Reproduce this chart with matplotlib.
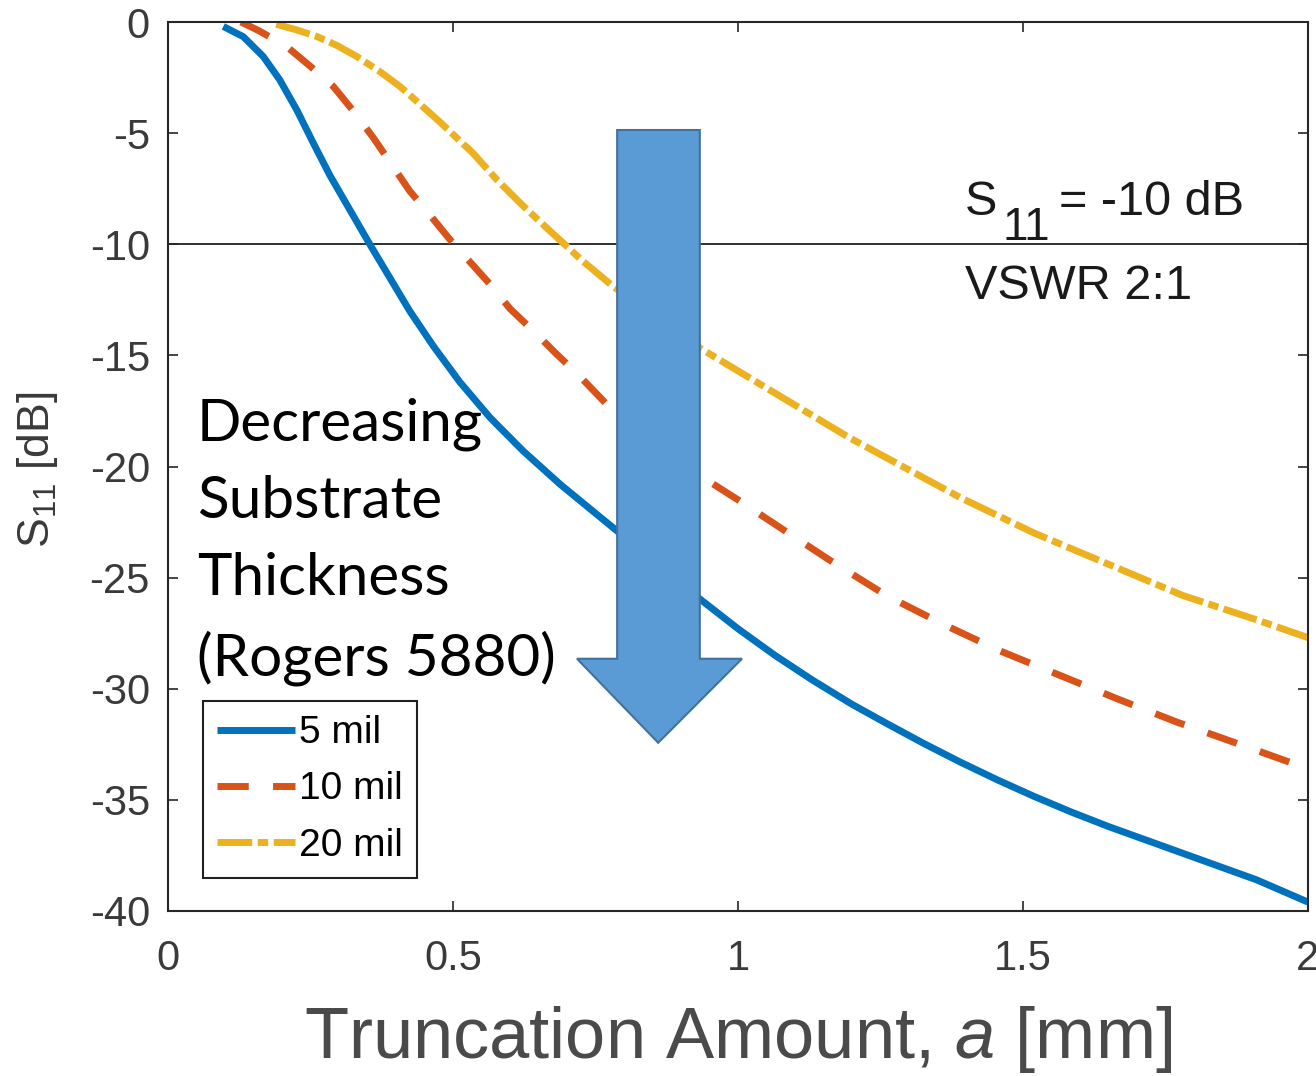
import numpy as np
import matplotlib
matplotlib.use('Agg')
import matplotlib.pyplot as plt
from matplotlib.patches import Polygon

# data
x_5mil = [0.097, 0.132, 0.167, 0.196, 0.226, 0.255, 0.284, 0.319, 0.354, 0.389, 0.424, 0.466,
          0.512, 0.565, 0.623, 0.688, 0.764, 0.85, 0.93, 1.0, 1.065, 1.13, 1.2, 1.26, 1.325,
          1.39, 1.455, 1.52, 1.585, 1.65, 1.715, 1.78, 1.845, 1.91, 1.955, 2.0]
s11_5mil = [-0.2, -0.66, -1.55, -2.6, -3.96, -5.45, -6.9, -8.45, -10.0, -11.5, -13.0, -14.6,
            -16.2, -17.8, -19.3, -20.8, -22.4, -24.2, -25.9, -27.3, -28.5, -29.6, -30.7, -31.55, -32.45,
            -33.3, -34.1, -34.85, -35.55, -36.2, -36.8, -37.4, -38.0, -38.6, -39.1, -39.6]

x_10mil = [0.128, 0.16, 0.208, 0.25, 0.29, 0.325, 0.36, 0.392, 0.424, 0.46, 0.495, 0.53,
           0.565, 0.60, 0.641, 0.68, 0.717, 0.781, 0.85, 0.951, 1.0, 1.065, 1.16, 1.26,
           1.36, 1.46, 1.565, 1.67, 1.77, 1.88, 2.0]
s11_10mil = [0.0, -0.4, -1.1, -2.0, -2.9, -4.0, -5.2, -6.4, -7.6, -8.7, -9.8, -10.8,
             -11.8, -12.9, -13.9, -14.9, -15.8, -17.5, -18.9, -20.7, -21.5, -22.6, -24.2, -25.8,
             -27.1, -28.3, -29.4, -30.5, -31.5, -32.5, -33.6]

x_20mil = [0.19, 0.225, 0.261, 0.296, 0.331, 0.37, 0.407, 0.44, 0.477, 0.535, 0.577, 0.62,
           0.67, 0.70, 0.725, 0.781, 0.86, 0.935, 1.0, 1.065, 1.13, 1.195, 1.26, 1.325,
           1.39, 1.455, 1.52, 1.585, 1.65, 1.715, 1.78, 1.845, 1.91, 1.955, 2.0]
s11_20mil = [-0.1, -0.35, -0.65, -1.05, -1.55, -2.2, -2.9, -3.65, -4.5, -5.9, -7.1, -8.2,
             -9.4, -10.1, -10.7, -11.9, -13.3, -14.7, -15.7, -16.7, -17.7, -18.7, -19.6, -20.5,
             -21.4, -22.2, -23.0, -23.7, -24.4, -25.1, -25.8, -26.35, -26.9, -27.3, -27.7]

labels = ['5 mil', '10 mil', '20 mil']
xticks = [0, 0.5, 1, 1.5, 2]
yticks = [0, -5, -10, -15, -20, -25, -30, -35, -40]

plt.rcParams['font.family'] = ['Liberation Sans', 'DejaVu Sans']
plt.rcParams['mathtext.fontset'] = 'custom'
plt.rcParams['mathtext.rm'] = 'Liberation Sans'
plt.rcParams['mathtext.it'] = 'Liberation Sans:italic'

fig = plt.figure(figsize=(13.16, 10.76), dpi=100)
ax = fig.add_axes([168/1316, 165/1076, 1140/1316, 889/1076])

ax.plot(x_5mil, s11_5mil, color='#0072BD', lw=5, solid_capstyle='butt', label=labels[0])
ax.plot(x_10mil, s11_10mil, color='#D95319', lw=5, dashes=(4.5, 3.5), dash_capstyle='butt', label=labels[1])
ax.plot(x_20mil, s11_20mil, color='#EDB120', lw=5, dashes=(5, 0.8, 1.5, 0.8), dash_capstyle='butt', label=labels[2])

ax.axhline(-10, color='#202020', lw=1.3, zorder=1)

ax.set_xlim(0, 2)
ax.set_ylim(-40, 0)
ax.set_xticks(xticks)
ax.set_xticklabels(['0', '0.5', '1', '1.5', '2'])
ax.set_yticks(yticks)
ax.set_yticklabels([str(v) for v in yticks])
ax.tick_params(direction='in', length=7, width=1.2, labelsize=30, colors='#262626',
               labelcolor='#3a3a3a', top=True, right=True)
ax.tick_params(axis='y', pad=13)
ax.tick_params(axis='x', pad=20)
for sp in ax.spines.values():
    sp.set_color('#262626')
    sp.set_linewidth(1.5)

ax.set_xlabel('Truncation Amount, $\\mathit{a}$ [mm]', fontsize=52, color='#4a4a4a')
ax.xaxis.set_label_coords(0.5, -0.105)
ax.set_ylabel('S$_{11}$ [dB]', fontsize=32, color='#3a3a3a')
ax.yaxis.set_label_coords(-0.095, 0.496)

# S11 = -10 dB with a large, low subscript like the original
ax.text(1.398, -8.7, 'S', fontsize=35, color='#1a1a1a', va='baseline')
ax.annotate('11', xy=(1.398, -8.7), xytext=(27, -18), textcoords='offset points',
            fontsize=33, color='#1a1a1a', va='baseline')
ax.annotate('= -10 dB', xy=(1.398, -8.7), xytext=(68, 0), textcoords='offset points',
            fontsize=35, color='#1a1a1a', va='baseline')
ax.text(1.398, -12.45, 'VSWR 2:1', fontsize=35, color='#1a1a1a', va='baseline')

ax.text(0.051, -16.9, 'Decreasing\nSubstrate\nThickness\n(Rogers 5880)', fontsize=42,
        family=['Lato', 'DejaVu Sans'], color='black', va='top', ha='left', linespacing=1.56)

# block arrow
arrow = Polygon([(0.788, -4.86), (0.933, -4.86), (0.933, -28.65), (1.007, -28.65),
                 (0.86, -32.43), (0.7175, -28.65), (0.788, -28.65)],
                closed=True, facecolor='#5B9BD5', edgecolor='#41719C', lw=1.5, zorder=5)
ax.add_patch(arrow)

leg = ax.legend(loc='upper left', bbox_to_anchor=(0.0307, 0.236), fontsize=28,
                handlelength=2.0, handletextpad=0.1, borderpad=0.36, labelspacing=0.52,
                fancybox=False, framealpha=1, edgecolor='#202020', borderaxespad=0)
leg.get_frame().set_linewidth(1.5)
leg.set_zorder(6)

fig.savefig('out.png', dpi=100)
